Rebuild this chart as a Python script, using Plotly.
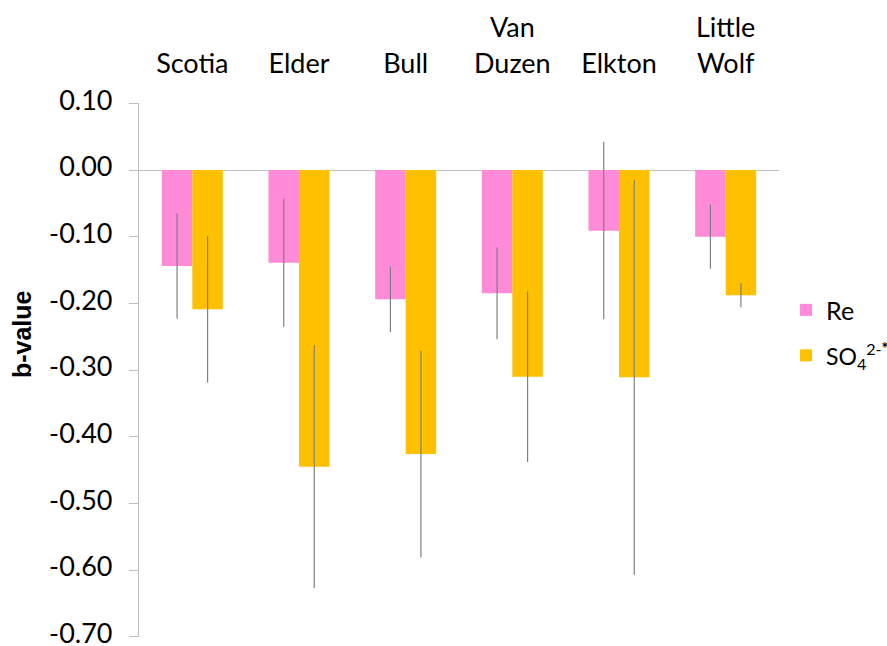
import plotly.graph_objects as go

sites = ["Scotia", "Elder", "Bull", "Van<br>Duzen", "Elkton", "Little<br>Wolf"]
re_vals = [-0.144, -0.139, -0.194, -0.185, -0.091, -0.100]
re_err = [0.079, 0.096, 0.049, 0.069, 0.133, 0.048]
so4_vals = [-0.209, -0.445, -0.426, -0.310, -0.311, -0.188]
so4_err = [0.110, 0.182, 0.155, 0.128, 0.296, 0.018]
y_ticks = [0.1, 0.0, -0.1, -0.2, -0.3, -0.4, -0.5, -0.6, -0.7]
y_labels = ["0.10", "0.00", "-0.10", "-0.20", "-0.30", "-0.40", "-0.50", "-0.60", "-0.70"]

FONT = "Lato"

fig = go.Figure()
fig.add_trace(go.Bar(
    x=sites, y=re_vals, name="Re", legendgroup="re",
    marker=dict(color="#FF8AD8", line=dict(width=0)),
    error_y=dict(type="data", array=re_err, visible=True, width=0,
                 thickness=1.2, color="#808080"),
))
fig.add_trace(go.Bar(
    x=sites, y=so4_vals,
    name='<span style="font-size:23px">SO<sub>4</sub><sup>2-<b>*</b></sup></span>',
    legendgroup="so4",
    marker=dict(color="#FFC000", line=dict(width=0)),
    error_y=dict(type="data", array=so4_err, visible=True, width=0,
                 thickness=1.2, color="#808080"),
))

fig.add_annotation(
    text="<b>b-value</b>", textangle=-90,
    xref="paper", yref="paper", x=-0.183, y=0.567,
    xanchor="center", yanchor="middle", showarrow=False,
    font=dict(family="Liberation Sans", size=25, color="#000000"),
)

fig.update_layout(
    width=887, height=646,
    margin=dict(l=139, r=108, t=103, b=9, pad=0, autoexpand=False),
    paper_bgcolor="white", plot_bgcolor="white",
    barmode="group", bargap=0.428, bargroupgap=0,
    font=dict(family=FONT, color="#000000", size=27),
    showlegend=True,
    legend=dict(x=1.011, y=0.57, xanchor="left", yanchor="middle",
                font=dict(family=FONT, size=25), tracegroupgap=10,
                traceorder="grouped",
                itemwidth=30, bgcolor="rgba(0,0,0,0)"),
    xaxis=dict(side="top", showline=False, ticks="", showgrid=False,
               tickfont=dict(family=FONT, size=27), ticklabelstandoff=24),
    yaxis=dict(range=[-0.7005, 0.1005], tickvals=y_ticks, ticktext=y_labels,
               showgrid=False, zeroline=True, zerolinecolor="#BFBFBF",
               zerolinewidth=1.2, showline=True, linecolor="#BFBFBF",
               linewidth=1.2, ticks="outside", ticklen=9, tickcolor="#BFBFBF",
               tickwidth=1.2, tickfont=dict(family=FONT, size=27),
               ticklabelstandoff=11, ticklabelshift=-3,
               ticklabeloverflow="allow"),
)

fig.write_html("out.html")
